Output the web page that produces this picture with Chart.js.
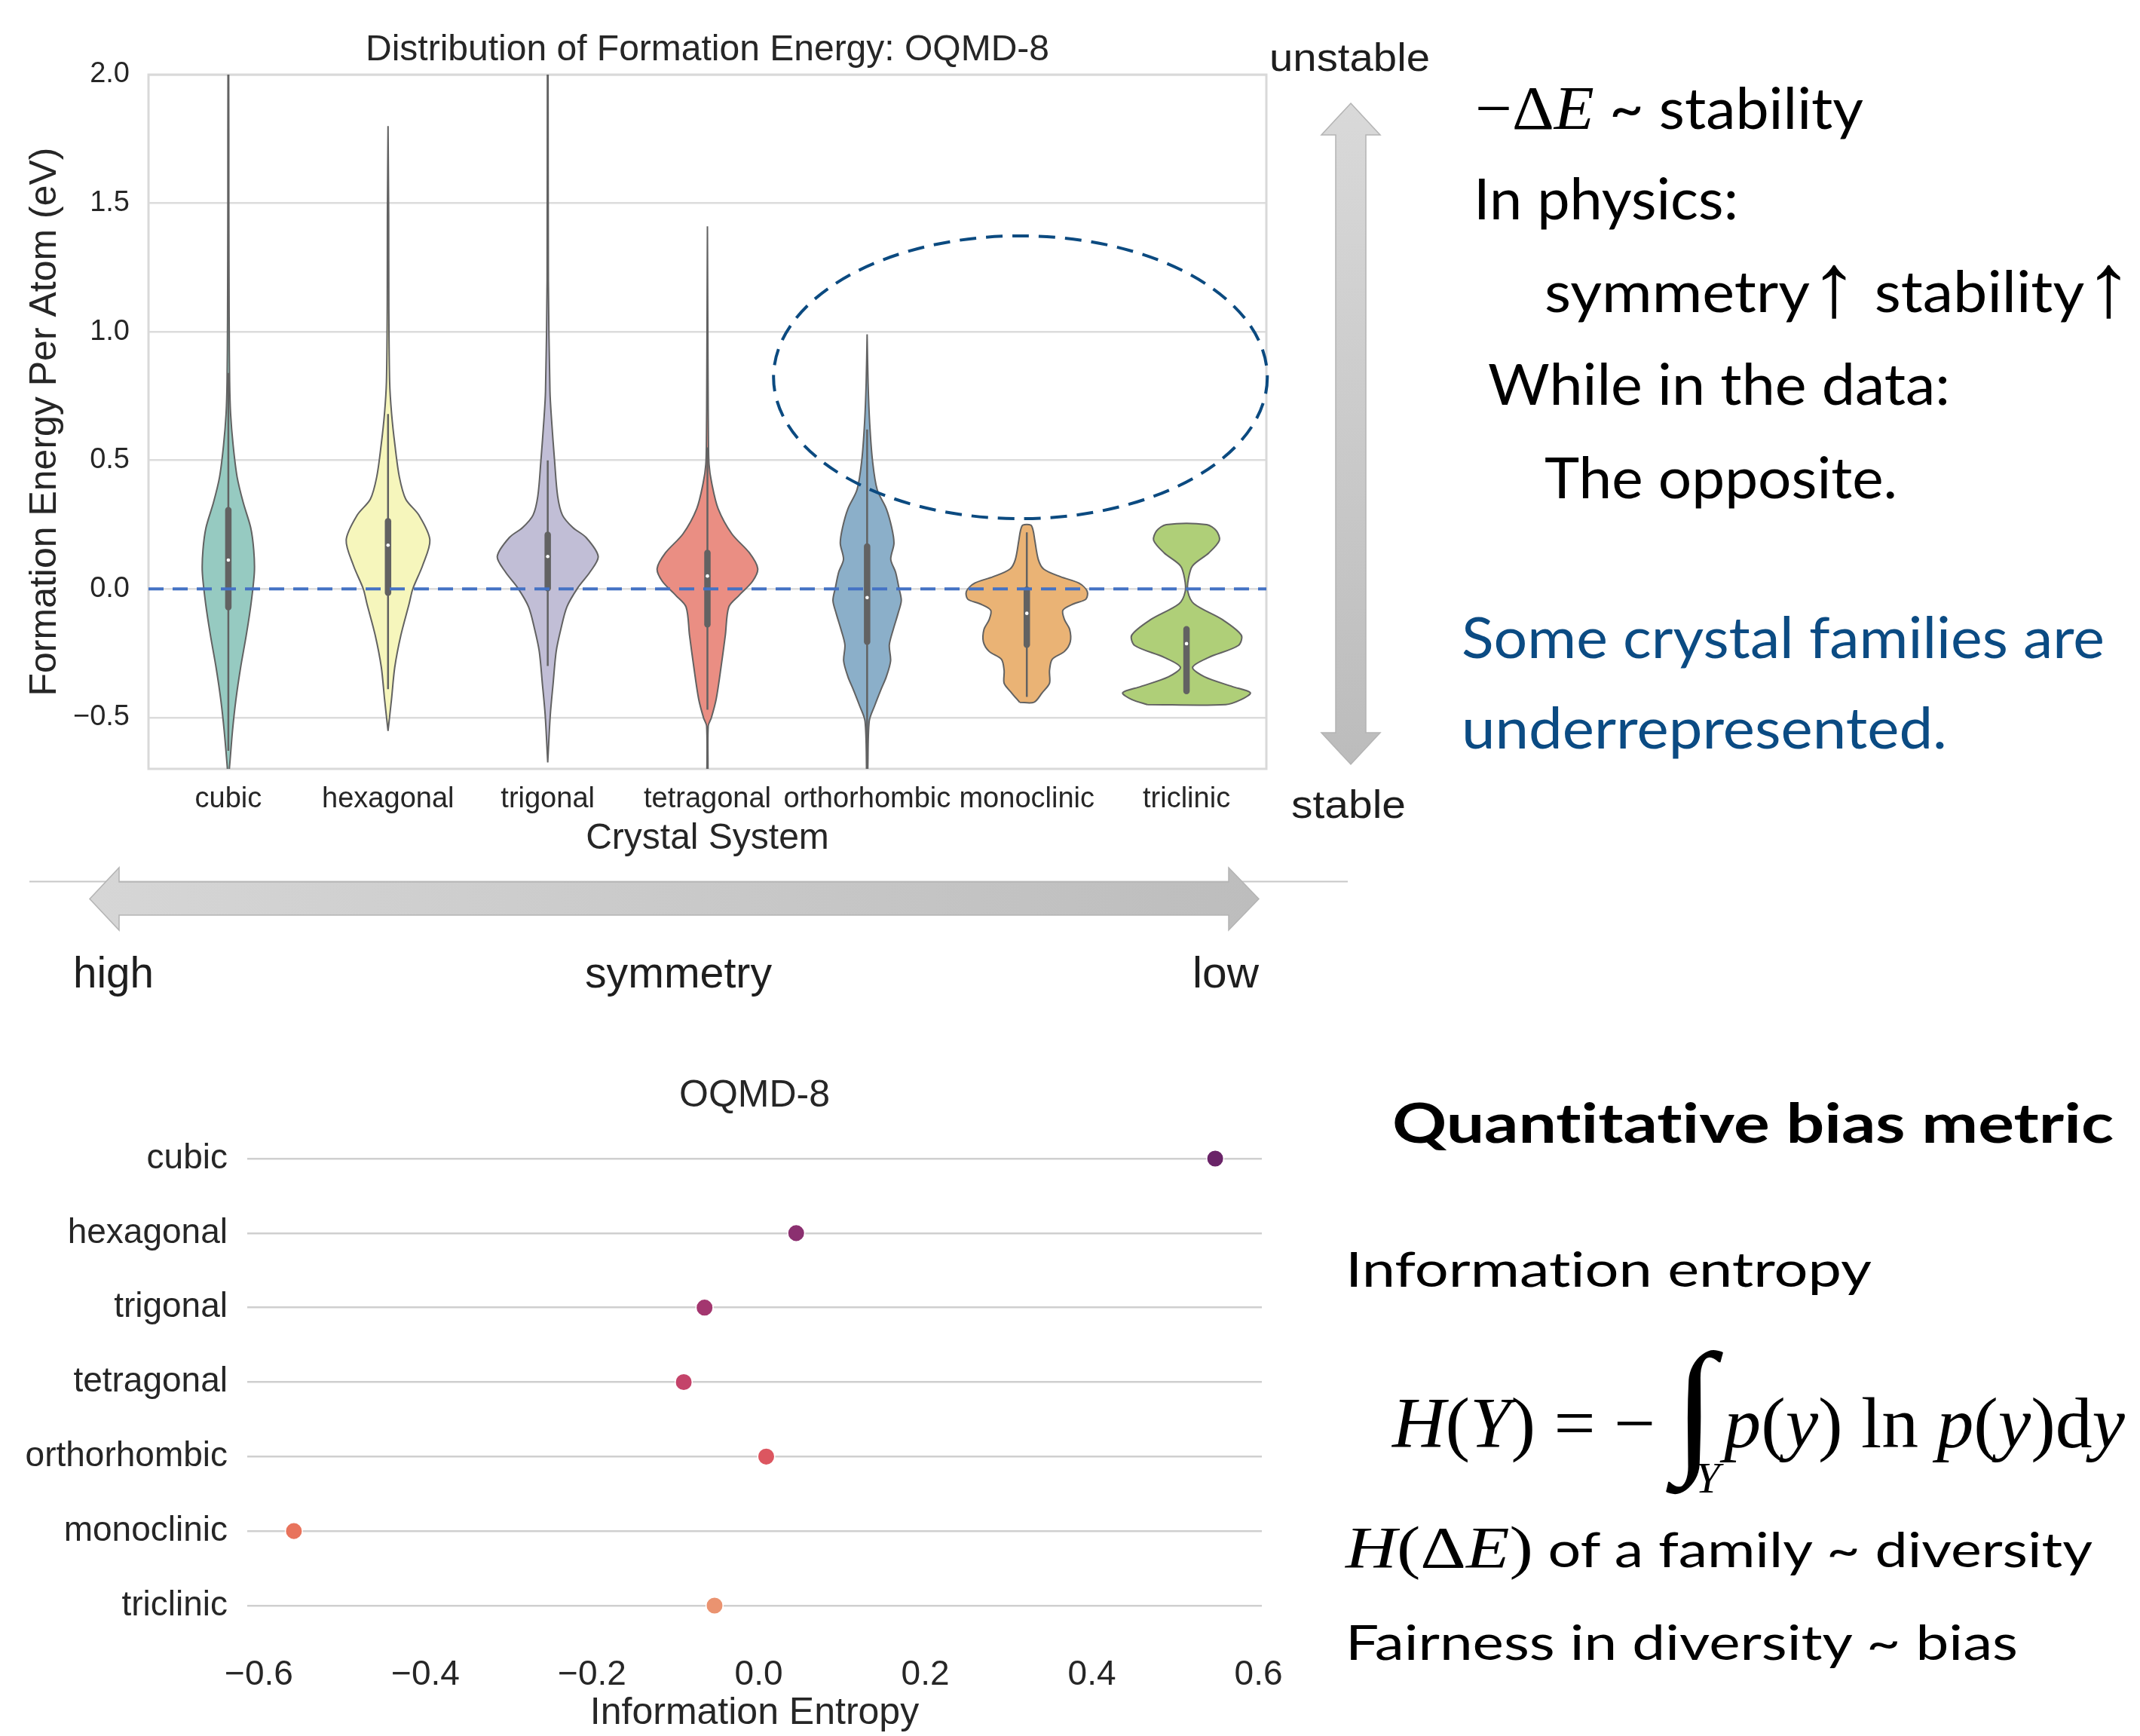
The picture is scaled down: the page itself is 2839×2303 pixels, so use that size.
<!DOCTYPE html>
<html>
<head>
<meta charset="utf-8">
<title>Formation energy and entropy by crystal system</title>
<script src="https://cdn.jsdelivr.net/npm/chart.js@4.4.1/dist/chart.umd.min.js"></script>
<style>
  body { margin: 0; background: #fff; }
  #page { position: relative; width: 2839px; height: 2303px; overflow: hidden; background: #fff; }
  .box { position: absolute; }
  .txt { position: absolute; white-space: nowrap; transform-origin: 0 0; color: #000; font-variant-ligatures: none; }
  .bl { display: inline-block; width: 0; height: 0; vertical-align: baseline; }
  .arial { font-family: "Liberation Sans", Arial, sans-serif; color: #1e1e1e; }
  .cal { font-family: Lato, "Open Sans", sans-serif; }
  .m { font-family: "Liberation Serif", "DejaVu Serif", serif; }
  .m i { font-style: italic; }
  .arr { font-family: "Liberation Serif", "DejaVu Serif", serif; font-size: 1.6em; line-height: 1; vertical-align: -0.04em; }
  .blue { color: #0b4b83; }
</style>
</head>
<body>
<div id="page">
  <div class="box" style="left:0;top:0;width:1760px;height:1150px"><canvas id="violinChart"></canvas></div>
  <div class="box" style="left:0;top:1380px;width:1760px;height:923px"><canvas id="entropyChart"></canvas></div>

  <svg class="box" style="left:0;top:0" width="2839" height="2303">
    <defs>
      <linearGradient id="gradH" x1="0" x2="1" y1="0" y2="0">
        <stop offset="0" stop-color="#d6d6d6"/><stop offset="1" stop-color="#bdbdbd"/>
      </linearGradient>
      <linearGradient id="gradV" x1="0" x2="0" y1="0" y2="1">
        <stop offset="0" stop-color="#d9d9d9"/><stop offset="1" stop-color="#bcbcbc"/>
      </linearGradient>
    </defs>
    <line x1="39" y1="1169.5" x2="1788" y2="1169.5" stroke="#c8c8c8" stroke-width="2"/>
    <polygon points="119,1192.5 158,1151 158,1170 1630,1170 1630,1151 1670,1192.5 1630,1234 1630,1214 158,1214 158,1234"
             fill="url(#gradH)" stroke="#b4b4b4" stroke-width="1.5"/>
    <polygon points="1792,137 1831,179 1812,179 1812,972 1831,972 1792,1014 1753,972 1772,972 1772,179 1753,179"
             fill="url(#gradV)" stroke="#b4b4b4" stroke-width="1.5"/>
  </svg>

  <!-- labels around the violin plot -->
  <div class="txt arial" data-x="1684" data-base="93.5" data-w="213" style="font-size:52px"><span class="bl"></span>unstable</div>
  <div class="txt arial" data-x="1713" data-base="1084.5" data-w="152" style="font-size:52px"><span class="bl"></span>stable</div>
  <div class="txt arial" data-x="97" data-base="1310" data-w="107" style="font-size:58px"><span class="bl"></span>high</div>
  <div class="txt arial" data-x="776" data-base="1310" data-w="248" style="font-size:58px"><span class="bl"></span>symmetry</div>
  <div class="txt arial" data-x="1582" data-base="1310" data-w="88" style="font-size:58px"><span class="bl"></span>low</div>

  <!-- right hand notes -->
  <div class="txt cal" data-x="1957" data-base="170.5" data-w="515" style="font-size:75px"><span class="bl"></span><span class="m" style="font-size:1.1em">−Δ<i>E</i></span> ~ stability</div>
  <div class="txt cal" data-x="1955" data-base="291" data-w="351" style="font-size:75px"><span class="bl"></span>In physics:</div>
  <div class="txt cal" data-x="2049" data-base="414" data-w="781" style="font-size:75px"><span class="bl"></span>symmetry<span class="arr">↑</span> stability<span class="arr">↑</span></div>
  <div class="txt cal" data-x="1974" data-base="537" data-w="613" style="font-size:75px"><span class="bl"></span>While in the data:</div>
  <div class="txt cal" data-x="2049" data-base="661" data-w="468" style="font-size:75px"><span class="bl"></span>The opposite.</div>
  <div class="txt cal blue" data-x="1939" data-base="873" data-w="853" style="font-size:75px"><span class="bl"></span>Some crystal families are</div>
  <div class="txt cal blue" data-x="1939" data-base="993" data-w="644" style="font-size:75px"><span class="bl"></span>underrepresented.</div>

  <div class="txt cal" data-x="1847" data-base="1516" data-w="957" style="font-size:72px;font-weight:700"><span class="bl"></span>Quantitative bias metric</div>
  <div class="txt cal" data-x="1785" data-base="1707" data-w="698" style="font-size:64px"><span class="bl"></span>Information entropy</div>
  <div class="txt m" data-x="1847" data-base="1920" data-w="972" style="font-size:95px"><span class="bl"></span><i>H</i>(<i>Y</i>) = − <span style="display:inline-block;font-size:2.05em;vertical-align:-0.05em">∫</span><span style="display:inline-block;font-size:0.6em;vertical-align:-1.05em;margin-left:-0.45em;margin-right:0.1em"><i>Y</i></span><i>p</i>(<i>y</i>) ln <i>p</i>(<i>y</i>)d<i>y</i></div>
  <div class="txt cal" data-x="1785" data-base="2079" data-w="991" style="font-size:64px"><span class="bl"></span><span class="m" style="font-size:1.22em"><i>H</i>(Δ<i>E</i>)</span> of a family ~ diversity</div>
  <div class="txt cal" data-x="1785" data-base="2202" data-w="892" style="font-size:64px"><span class="bl"></span>Fairness in diversity ~ bias</div>
</div>

<script>
Chart.defaults.font.family = '"Liberation Sans", Arial, sans-serif';
Chart.defaults.color = '#262626';

const crystalSystems = ['cubic', 'hexagonal', 'trigonal', 'tetragonal', 'orthorhombic', 'monoclinic', 'triclinic'];
const violinColors = ['#96cac1', '#f6f6bc', '#c1bed6', '#ea8e83', '#8bafc9', '#eab375', '#afcf78'];

// violin outlines: energy (eV) and half width (in category slots)
const cubicE = [-0.72, -0.552, -0.428, -0.305, -0.181, -0.058, 0.065, 0.151, 0.238, 0.336, 0.435, 0.559, 0.682, 0.806, 1.05, 1.5, 2.05];
const cubicW = [0.003, 0.026, 0.048, 0.077, 0.112, 0.142, 0.163, 0.159, 0.14, 0.093, 0.055, 0.03, 0.014, 0.008, 0.005, 0.003, 0.002];
const hexagonalE = [-0.552, -0.428, -0.305, -0.181, -0.058, 0.0, 0.09, 0.19, 0.287, 0.349, 0.435, 0.56, 0.683, 0.806, 1.1, 1.45, 1.8];
const hexagonalW = [0.0, 0.022, 0.042, 0.08, 0.132, 0.155, 0.216, 0.262, 0.193, 0.111, 0.071, 0.043, 0.022, 0.01, 0.005, 0.004, 0.0];
const trigonalE = [-0.675, -0.49, -0.366, -0.243, -0.157, -0.07, 0.004, 0.065, 0.126, 0.2, 0.238, 0.287, 0.361, 0.497, 0.657, 0.768, 1.2, 2.05];
const trigonalW = [0.0, 0.016, 0.034, 0.053, 0.082, 0.12, 0.188, 0.264, 0.316, 0.24, 0.158, 0.092, 0.062, 0.043, 0.024, 0.014, 0.004, 0.002];
const tetragonalE = [-0.72, -0.533, -0.502, -0.428, -0.305, -0.181, -0.07, -0.026, 0.03, 0.079, 0.14, 0.214, 0.312, 0.411, 0.485, 0.6, 0.8, 1.41];
const tetragonalW = [0.003, 0.005, 0.024, 0.055, 0.085, 0.112, 0.134, 0.197, 0.283, 0.315, 0.263, 0.153, 0.067, 0.027, 0.01, 0.006, 0.004, 0.0];
const orthorhombicE = [-0.72, -0.515, -0.453, -0.391, -0.342, -0.28, -0.218, -0.157, -0.095, -0.045, 0.004, 0.065, 0.115, 0.177, 0.238, 0.312, 0.386, 0.497, 0.645, 0.8, 0.99];
const orthorhombicW = [0.003, 0.013, 0.048, 0.087, 0.12, 0.147, 0.139, 0.164, 0.194, 0.214, 0.199, 0.178, 0.148, 0.168, 0.154, 0.12, 0.063, 0.034, 0.016, 0.006, 0.0];
const monoclinicE = [-0.441, -0.404, -0.367, -0.318, -0.274, -0.243, -0.206, -0.157, -0.12, -0.083, -0.058, -0.04, -0.009, 0.022, 0.047, 0.077, 0.114, 0.189, 0.226, 0.248];
const monoclinicW = [0.045, 0.096, 0.142, 0.142, 0.159, 0.236, 0.272, 0.268, 0.236, 0.226, 0.294, 0.37, 0.378, 0.327, 0.212, 0.106, 0.072, 0.05, 0.04, 0.025];
const triclinicE = [-0.45, -0.43, -0.404, -0.38, -0.342, -0.305, -0.267, -0.22, -0.18, -0.12, -0.058, -0.01, 0.04, 0.09, 0.14, 0.189, 0.226, 0.25];
const triclinicW = [0.245, 0.344, 0.4, 0.288, 0.113, 0.038, 0.137, 0.325, 0.343, 0.226, 0.047, 0.008, 0.012, 0.038, 0.14, 0.206, 0.187, 0.127];

// inner box of each violin
const q1 = [-0.071, -0.015, 0.003, -0.138, -0.205, -0.217, -0.397];
const q3 = [0.306, 0.263, 0.21, 0.14, 0.165, -0.003, -0.157];
const medians = [0.112, 0.17, 0.126, 0.05, -0.034, -0.095, -0.213];
const whiskerLo = [-0.63, -0.39, -0.3, -0.47, -0.7, -0.42, -0.397];
const whiskerHi = [0.84, 0.68, 0.5, 0.55, 0.62, 0.22, -0.157];
const energyTicks = [-0.5, 0, 0.5, 1.0, 1.5, 2.0];

// information entropy per crystal system
const entropyValues = [0.548, 0.045, -0.065, -0.09, 0.009, -0.558, -0.053];
const entropyColors = ['#6a2468', '#8b3070', '#a3366f', '#c4436a', '#dc5660', '#e8735c', '#ea9370'];
const entropyTicks = [-0.6, -0.4, -0.2, 0, 0.2, 0.4, 0.6];

const outlines = [
  [cubicE, cubicW], [hexagonalE, hexagonalW], [trigonalE, trigonalW], [tetragonalE, tetragonalW],
  [orthorhombicE, orthorhombicW], [monoclinicE, monoclinicW], [triclinicE, triclinicW]
];

const fmt = v => (v < 0 ? '\u2212' : '') + Math.abs(v).toFixed(1);
const boxGray = '#626262';

function violinOutline(i, es, ws) {
  const left = es.map((e, k) => ({ x: i - ws[k], y: e }));
  const right = es.map((e, k) => ({ x: i + ws[k], y: e })).reverse();
  return [...left, ...right, left[0]];
}

const datasets = [];
outlines.forEach(([es, ws], i) => {
  datasets.push({
    data: violinOutline(i, es, ws), showLine: true, fill: 'shape', tension: 0.3,
    backgroundColor: violinColors[i], borderColor: boxGray, borderWidth: 2, pointRadius: 0, order: 4
  });
  datasets.push({
    data: [{ x: i, y: whiskerLo[i] }, { x: i, y: whiskerHi[i] }], showLine: true,
    borderColor: boxGray, borderWidth: 2.5, pointRadius: 0, order: 3
  });
  datasets.push({
    data: [{ x: i, y: q1[i] }, { x: i, y: q3[i] }], showLine: true, borderCapStyle: 'round',
    borderColor: boxGray, borderWidth: 8.5, pointRadius: 0, order: 2
  });
});
datasets.push({
  data: [{ x: -0.5, y: 0 }, { x: 6.5, y: 0 }], showLine: true, borderColor: '#4472c4',
  borderDash: [20, 12], borderWidth: 4, pointRadius: 0, order: 1
});
datasets.push({
  data: medians.map((m, i) => ({ x: i, y: m })), pointRadius: 2.3,
  pointBackgroundColor: '#ffffff', pointBorderWidth: 0, order: 0
});

const plotFrame = {
  id: 'plotFrame',
  beforeDatasetsDraw(chart) {
    const { ctx, chartArea: a } = chart;
    ctx.save();
    ctx.strokeStyle = '#d9d9d9';
    ctx.lineWidth = 3;
    ctx.strokeRect(a.left, a.top, a.width, a.height);
    ctx.restore();
  }
};

// dashed call-out around the sparse upper region (data units)
const calloutEllipse = {
  id: 'calloutEllipse',
  afterDatasetsDraw(chart) {
    const { ctx, scales: { x, y } } = chart;
    const cx = x.getPixelForValue(4.96), cy = y.getPixelForValue(0.823);
    const rx = x.getPixelForValue(4.96 + 1.546) - cx;
    const ry = cy - y.getPixelForValue(0.823 + 0.55);
    ctx.save();
    ctx.beginPath();
    ctx.ellipse(cx, cy, rx, ry, 0, 0, Math.PI * 2);
    ctx.setLineDash([22, 13]);
    ctx.lineWidth = 4;
    ctx.strokeStyle = '#0b4a80';
    ctx.stroke();
    ctx.restore();
  }
};

new Chart(document.getElementById('violinChart'), {
  type: 'scatter',
  data: { datasets },
  options: {
    responsive: true, maintainAspectRatio: false, animation: false,
    layout: { padding: { left: 0, right: 80, top: 0, bottom: 0 } },
    plugins: {
      legend: { display: false }, tooltip: { enabled: false },
      title: {
        display: true, fullSize: false, text: 'Distribution of Formation Energy: OQMD-8', color: '#262626',
        font: { size: 48, weight: 'normal' }, padding: { top: 38, bottom: 3.4 }
      }
    },
    scales: {
      x: {
        type: 'linear', min: -0.5, max: 6.5,
        afterBuildTicks: s => { s.ticks = crystalSystems.map((_, i) => ({ value: i })); },
        afterFit: s => { s.height = 130; },
        grid: { display: false, drawTicks: false }, border: { display: false },
        ticks: { autoSkip: false, maxRotation: 0, minRotation: 0, padding: 18, font: { size: 38 }, callback: v => crystalSystems[v] },
        title: { display: true, text: 'Crystal System', font: { size: 48 }, padding: { top: 0, bottom: 8 } }
      },
      y: {
        min: -0.7, max: 2.0,
        afterBuildTicks: s => { s.ticks = energyTicks.map(v => ({ value: v })); },
        afterFit: s => { s.width = 197; },
        grid: { color: '#dcdcdc', lineWidth: 2.5, drawTicks: false }, border: { display: false },
        ticks: { padding: 25, font: { size: 38 }, callback: v => fmt(v) },
        title: { display: true, text: 'Formation Energy Per Atom (eV)', font: { size: 50 }, padding: { top: 30, bottom: 0 } }
      }
    }
  },
  plugins: [plotFrame, calloutEllipse]
});

new Chart(document.getElementById('entropyChart'), {
  type: 'scatter',
  data: {
    datasets: [{
      data: entropyValues.map((v, i) => ({ x: v, y: i })),
      pointRadius: 11.3, pointBackgroundColor: entropyColors,
      pointBorderColor: '#ffffff', pointBorderWidth: 1.5
    }]
  },
  options: {
    responsive: true, maintainAspectRatio: false, animation: false,
    layout: { padding: { left: 0, right: 86, top: 0, bottom: 0 } },
    plugins: {
      legend: { display: false }, tooltip: { enabled: false },
      title: {
        display: true, fullSize: false, text: 'OQMD-8', color: '#262626',
        font: { size: 50, weight: 'normal' }, padding: { top: 44, bottom: 3.6 }
      }
    },
    scales: {
      x: {
        min: -0.614, max: 0.604,
        afterBuildTicks: s => { s.ticks = entropyTicks.map(v => ({ value: v })); },
        afterFit: s => { s.height = 123.6; },
        grid: { display: false, drawTicks: false }, border: { display: false },
        ticks: { padding: 15, font: { size: 46 }, callback: v => fmt(v) },
        title: { display: true, text: 'Information Entropy', font: { size: 50 }, padding: { top: 0, bottom: 0 } }
      },
      y: {
        min: -0.5, max: 6.5, reverse: true,
        afterBuildTicks: s => { s.ticks = crystalSystems.map((_, i) => ({ value: i })); },
        afterFit: s => { s.width = 328; },
        grid: { color: '#cfcfcf', lineWidth: 2.5, drawTicks: false }, border: { display: false },
        ticks: { padding: 26, font: { size: 46 }, callback: v => crystalSystems[v] }
      }
    }
  }
});

// put each note on its baseline and stretch it to the width it has in the slide
function placeText() {
  document.querySelectorAll('.txt').forEach(el => {
    el.style.transform = 'none';
    el.style.left = el.dataset.x + 'px';
    el.style.top = '0px';
    const base = el.querySelector('.bl').offsetTop;
    el.style.top = (+el.dataset.base - base) + 'px';
    const w = el.getBoundingClientRect().width;
    el.style.transform = 'scaleX(' + (+el.dataset.w / w).toFixed(4) + ')';
  });
}
placeText();
document.fonts.ready.then(placeText);
</script>
</body>
</html>
